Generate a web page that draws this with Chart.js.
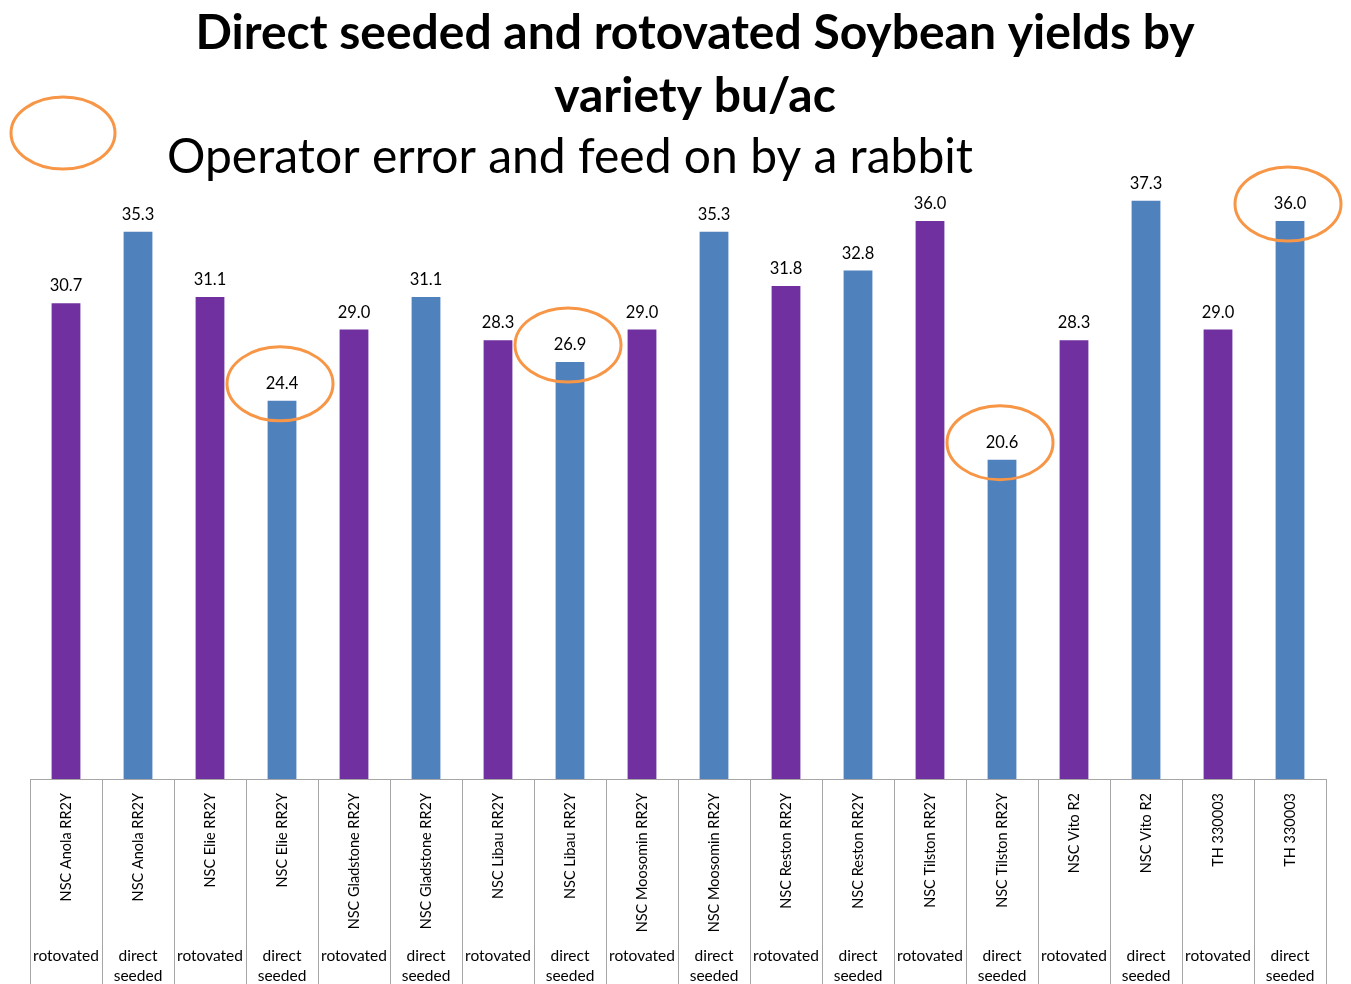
<!DOCTYPE html>
<html>
<head>
<meta charset="utf-8">
<script src="https://cdn.jsdelivr.net/npm/chart.js@4.4.1/dist/chart.umd.min.js"></script>
<style>
  html, body { margin: 0; padding: 0; background: #ffffff; }
  #wrap { position: relative; width: 1351px; height: 984px; }
</style>
</head>
<body>
<div id="wrap"><canvas id="yieldChart" width="1351" height="984"></canvas></div>
<script>
// data
const varieties = [
  'NSC Anola RR2Y', 'NSC Anola RR2Y', 'NSC Elie RR2Y', 'NSC Elie RR2Y',
  'NSC Gladstone RR2Y', 'NSC Gladstone RR2Y', 'NSC Libau RR2Y', 'NSC Libau RR2Y',
  'NSC Moosomin RR2Y', 'NSC Moosomin RR2Y', 'NSC Reston RR2Y', 'NSC Reston RR2Y',
  'NSC Tilston RR2Y', 'NSC Tilston RR2Y', 'NSC Vito R2', 'NSC Vito R2',
  'TH 330003', 'TH 330003'
];
const methods = [
  'rotovated', 'direct seeded', 'rotovated', 'direct seeded',
  'rotovated', 'direct seeded', 'rotovated', 'direct seeded',
  'rotovated', 'direct seeded', 'rotovated', 'direct seeded',
  'rotovated', 'direct seeded', 'rotovated', 'direct seeded',
  'rotovated', 'direct seeded'
];
const yields = [30.7, 35.3, 31.1, 24.4, 29.0, 31.1, 28.3, 26.9, 29.0, 35.3, 31.8, 32.8, 36.0, 20.6, 28.3, 37.3, 29.0, 36.0];
// bars circled as problem plots
const flagged = [3, 7, 13, 17];

const titleLines = ['Direct seeded and rotovated Soybean yields by', 'variety bu/ac'];
const noteText = 'Operator error and feed on by a rabbit';

const purple = '#7030a0';
const blue = '#4f81bd';
const orange = '#f79646';
const barColors = methods.map(m => m === 'rotovated' ? purple : blue);

// titles, value labels, rings, category table
const decor = {
  id: 'decor',
  afterDraw(chart) {
    const c = chart.ctx;
    const x = chart.scales.x;
    const y = chart.scales.y;
    const area = chart.chartArea;
    c.save();

    // title
    c.fillStyle = '#000';
    c.textAlign = 'center';
    c.textBaseline = 'alphabetic';
    c.font = 'bold 48px Lato';
    c.fillText(titleLines[0], 695, 49);
    c.fillText(titleLines[1], 695, 112);

    // note with ring
    c.textAlign = 'left';
    c.font = '48px Lato';
    c.fillText(noteText, 167, 173);
    c.strokeStyle = orange;
    c.lineWidth = 3;
    c.beginPath();
    c.ellipse(63, 133, 52, 36, 0, 0, Math.PI * 2);
    c.stroke();

    // value labels
    c.textAlign = 'center';
    c.font = '16.5px Lato';
    yields.forEach((v, i) => {
      c.fillText(v.toFixed(1), x.getPixelForValue(i), y.getPixelForValue(v) - 12);
    });

    // rings round flagged values
    c.strokeStyle = orange;
    c.lineWidth = 3;
    flagged.forEach(i => {
      const cx = x.getPixelForValue(i) - 2;
      const cy = y.getPixelForValue(yields[i]) - 17;
      c.beginPath();
      c.ellipse(cx, cy, 53, 37, 0, 0, Math.PI * 2);
      c.stroke();
    });

    // category table below the axis
    const step = (area.right - area.left) / varieties.length;
    c.strokeStyle = '#a6a6a6';
    c.lineWidth = 1;
    c.beginPath();
    c.moveTo(area.left, area.bottom + 0.5);
    c.lineTo(area.right, area.bottom + 0.5);
    for (let i = 0; i <= varieties.length; i++) {
      const gx = Math.round(area.left + i * step) + 0.5;
      c.moveTo(gx, area.bottom);
      c.lineTo(gx, chart.height);
    }
    c.stroke();

    c.fillStyle = '#000';
    varieties.forEach((name, i) => {
      const cx = x.getPixelForValue(i);
      c.save();
      c.font = '14.5px Lato';
      c.translate(cx + 5, area.bottom + 14);
      c.rotate(-Math.PI / 2);
      c.textAlign = 'right';
      c.fillText(name, 0, 0);
      c.restore();
      const words = methods[i] === 'rotovated' ? ['rotovated'] : ['direct', 'seeded'];
      c.font = '15.5px Lato';
      c.textAlign = 'center';
      words.forEach((w, k) => c.fillText(w, cx, area.bottom + 182 + k * 20));
    });

    c.restore();
  }
};

new Chart(document.getElementById('yieldChart'), {
  type: 'bar',
  data: {
    labels: varieties,
    datasets: [{
      data: yields,
      backgroundColor: barColors,
      borderWidth: 0,
      categoryPercentage: 1,
      barPercentage: 0.4
    }]
  },
  options: {
    responsive: false,
    animation: false,
    layout: { padding: { left: 30, right: 25, top: 159, bottom: 205 } },
    scales: {
      x: { display: false },
      y: { display: false, min: 0, max: 40 }
    },
    plugins: {
      legend: { display: false },
      tooltip: { enabled: false }
    }
  },
  plugins: [decor]
});
</script>
</body>
</html>
